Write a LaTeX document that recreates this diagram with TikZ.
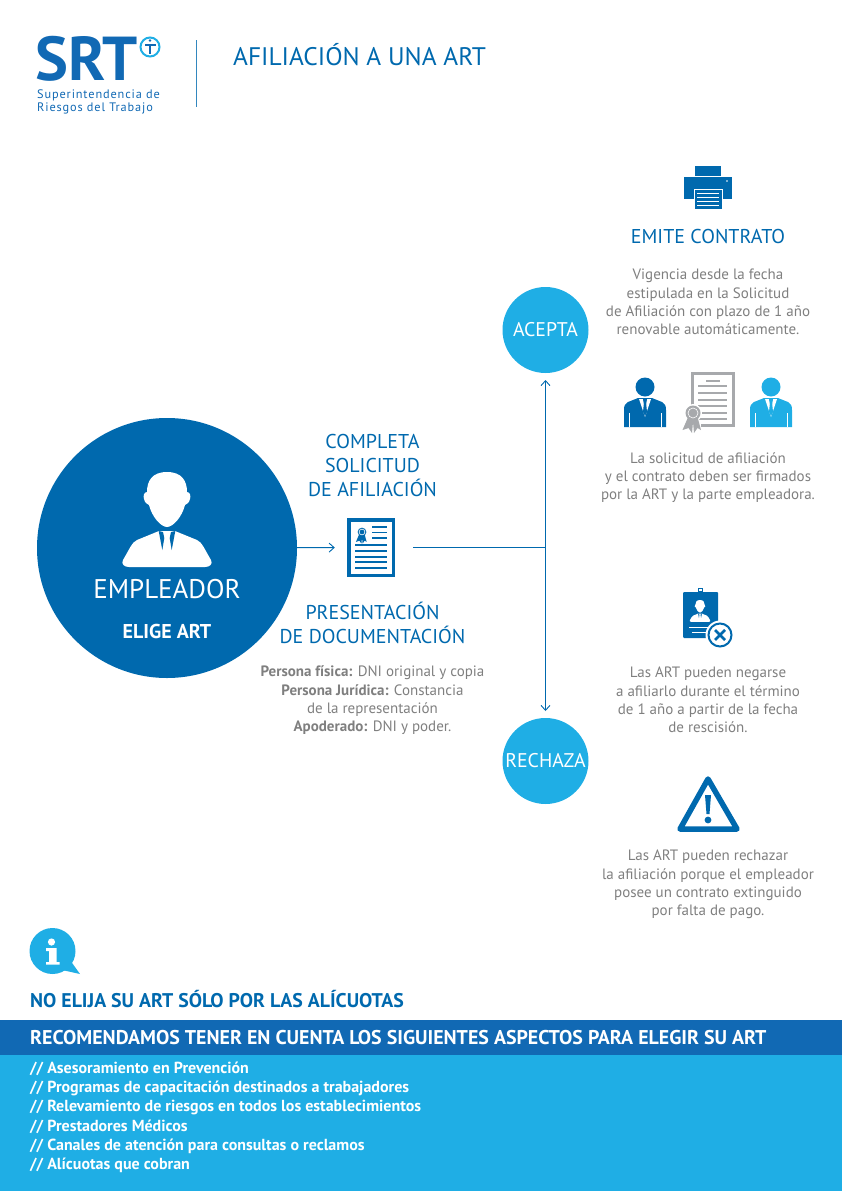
\documentclass[tikz,border=0pt]{standalone}
\usepackage{fontspec}
\setmainfont{PT Sans}
\newfontfamily\spacedfont[LetterSpace=7]{PT Sans}
\usetikzlibrary{arrows.meta}
\tikzset{>={Straight Barb[length=5pt,width=9pt]}}
\definecolor{srtblue}{HTML}{0069AE}
\definecolor{srtband}{HTML}{1169B4}
\definecolor{srtsky}{HTML}{1FAEE5}
\definecolor{srtgrey}{HTML}{7F7F7F}
\definecolor{srtsilver}{HTML}{A7A9AC}
\tikzset{
  heading/.style={text=srtblue,align=center,font=\fontsize{20}{24}\selectfont,inner sep=0pt},
  bodytext/.style={text=srtgrey,align=center,font=\fontsize{15}{18.3}\selectfont,inner sep=0pt},
  listtext/.style={text=white,anchor=west,inner sep=0pt,font=\fontsize{16}{19}\selectfont\bfseries},
  branch/.style={circle,fill=srtsky,text=white,minimum size=86pt,inner sep=0pt,outer sep=0pt,font=\fontsize{19.8}{22}\selectfont},
  link/.style={srtblue,line width=0.9pt},
}
% bust: x, top y, scale, colour of the figure, colour of the collar
\newcommand{\bust}[5]{
  \begin{scope}[shift={(#1,#2)},scale=#3]
    \fill[#4] (0,0) .. controls (-15,0) and (-20,9) .. (-20,20) .. controls (-23,20) and (-24,24) .. (-23,27)
      .. controls (-22,31) and (-20,32) .. (-18,33) .. controls (-15,45) and (-6,55) .. (0,55)
      .. controls (6,55) and (15,45) .. (18,33) .. controls (20,32) and (22,31) .. (23,27)
      .. controls (24,24) and (23,20) .. (20,20) .. controls (20,9) and (15,0) .. (0,0) -- cycle;
    \fill[#4] (-8,59) -- (-30,68) .. controls (-35,70) and (-38,78) .. (-44,88) .. controls (-46,92) and (-43,95) .. (-38,95)
      -- (38,95) .. controls (43,95) and (46,92) .. (44,88) .. controls (38,78) and (35,70) .. (30,68) -- (8,59) -- cycle;
    \fill[#5] (-8.3,59) -- (-4,60) -- (-2.7,66) -- (-4.7,78) -- cycle;
    \fill[#5] (8.3,59) -- (4,60) -- (2.7,66) -- (4.7,78) -- cycle;
  \end{scope}
}
% suit: x, top y, colour
\newcommand{\suit}[3]{
  \begin{scope}[shift={(#1,#2)}]
    \fill[#3] (0,0) circle (9.5);
    \fill[#3] (-7,11) -- (-17,15) .. controls (-20,16) and (-21,19) .. (-21,23) -- (-21,40) -- (21,40) -- (21,23)
      .. controls (21,19) and (20,16) .. (17,15) -- (7,11) -- cycle;
    \fill[white] (-6,12) -- (0,30) -- (6,12) -- cycle;
    \fill[#3] (-2,12) -- (2,12) -- (1.2,17) -- (2,25) -- (0,29) -- (-2,25) -- (-1.2,17) -- cycle;
    \draw[white,line width=0.4pt] (-16,26) -- (-16,40) (16,26) -- (16,40);
  \end{scope}
}
% rosette: x, y, scale, colour
\newcommand{\rosette}[4]{
  \begin{scope}[shift={(#1,#2)},scale=#3]
    \fill[#4] (-4,2) -- (-10.5,17) -- (-4.5,15) -- (-1,20) -- (0,9) -- (1,20) -- (4.5,15) -- (8,17) -- (4,2) -- cycle;
    \fill[#4] (0,0) circle (7.5);
    \draw[white,line width=0.6pt] (0,0) circle (5);
  \end{scope}
}
\begin{document}
\begin{tikzpicture}[x=1pt,y=-1pt]
  \useasboundingbox (0,0) rectangle (842,1191);
  % bands
  \fill[srtband] (0,1020) rectangle (842,1055);
  \fill[srtsky] (0,1055) rectangle (842,1191);
  % logo
  \node[text=srtband,anchor=base west,inner sep=0pt,font=\fontsize{62}{62}\selectfont\bfseries] (logotext) at (35,80) {SRT};
  \draw[srtsky,line width=2pt] (150,47) circle (9.5);
  \fill[srtband] (144.5,43.5) rectangle (155.5,45.5);
  \fill[srtband] (149,45) rectangle (151,54);
  \fill[srtband] (150,40.5) circle (1.4);
  \node[text=srtband,anchor=north west,align=left,inner sep=0pt,font=\fontsize{12.3}{12.5}\spacedfont] (logoname) at (37,90) {Superintendencia de\\Riesgos del Trabajo};
  \draw[srtblue!80!white,line width=0.8pt] (196,40) -- (196,107);
  \node[text=srtblue,anchor=base west,inner sep=0pt,font=\fontsize{25.4}{30}\selectfont] (title) at (233,65.5) {AFILIACIÓN A UNA ART};
  % main nodes
  \node[circle,fill=srtblue,minimum size=260pt,inner sep=0pt,outer sep=0pt] (empleador) at (167,548) {};
  \bust{167}{472}{1}{white}{srtblue}
  \node[text=white,inner sep=0pt,font=\fontsize{27}{30}\selectfont] (empleadorlabel) at (167,589) {EMPLEADOR};
  \node[text=white,inner sep=0pt,font=\fontsize{20}{22}\selectfont\bfseries] (eligeart) at (167,631) {ELIGE ART};
  \node[draw=srtblue,line width=3.5pt,minimum width=44.5pt,minimum height=55.5pt,inner sep=0pt,outer sep=0pt] (formdoc) at (371,547.5) {};
  \rosette{362}{532}{0.58}{srtblue}
  \foreach \y in {527,532.5,538} \draw[srtblue,line width=1.8pt] (372,\y) -- (387,\y);
  \foreach \y in {545,551,557,562,568} \draw[srtblue,line width=1.8pt] (355,\y) -- (387,\y);
  \node[branch] (acepta) at (545.5,330) {ACEPTA};
  \node[branch] (rechaza) at (545.5,761) {RECHAZA};
  \coordinate (junction) at (545.5,547.5);
  \draw[link,->,shorten >=14pt] (empleador) -- (formdoc);
  \draw[link,shorten <=20pt] (formdoc) -- (junction);
  \draw[link,->,shorten >=7pt] (junction) -- (acepta);
  \draw[link,->,shorten >=7pt] (junction) -- (rechaza);
  % middle texts
  \node[heading] (completa) at (372.5,465) {COMPLETA\\SOLICITUD\\DE AFILIACIÓN};
  \node[heading] (presentacion) at (372.5,622.5) {PRESENTACIÓN\\DE DOCUMENTACIÓN};
  \node[bodytext] (requisitos) at (372.5,700.5) {\textbf{Persona física:} DNI original y copia\\\textbf{Persona Jurídica:} Constancia\\de la representación\\\textbf{Apoderado:} DNI y poder.};
  % printer
  \fill[srtblue] (695,166) rectangle (721,176);
  \fill[srtblue] (684,177) rectangle (732,199);
  \fill[white] (727,181) circle (0.9);
  \draw[white,fill=srtblue,line width=0.8pt] (694,189) rectangle (722,209.5);
  \foreach \y in {193,197,201,205} \draw[white,line width=0.7pt] (697,\y) -- (719,\y);
  \node[heading] (emite) at (708,236.5) {EMITE CONTRATO};
  \node[bodytext] (vigencia) at (708,302) {Vigencia desde la fecha\\estipulada en la Solicitud\\de Afiliación con plazo de 1 año\\renovable automáticamente.};
  % signers and contract
  \suit{645}{387}{srtblue}
  \suit{771}{387}{srtsky}
  \draw[srtsilver,line width=3pt] (692.5,373.5) rectangle (733.5,425.5);
  \fill[white] (680,405) rectangle (701,434);
  \draw[srtsilver,line width=3pt] (692.5,407) -- (692.5,373.5) -- (733.5,373.5) -- (733.5,425.5) -- (701,425.5);
  \draw[srtsilver,line width=2pt] (706,381) -- (720,381);
  \foreach \y in {386,393,399.5,406,412.5,419} \draw[srtsilver,line width=2pt] (698,\y) -- (727,\y);
  \fill[white] (693,413) circle (9);
  \rosette{693}{413}{1}{srtsilver}
  \node[bodytext] (firmas) at (708,477.5) {La solicitud de afiliación\\y el contrato deben ser firmados\\por la ART y la parte empleadora.};
  % badge
  \fill[srtblue,rounded corners=1pt] (683,592) rectangle (718,638);
  \fill[srtblue] (698,588) rectangle (703,593);
  \fill[white] (699,589) rectangle (702,591);
  \bust{700}{600}{0.23}{white}{srtblue}
  \draw[white,line width=0.9pt] (689,627) -- (712,627);
  \draw[white,line width=0.9pt] (692,632) -- (709,632);
  \fill[white] (720,635) circle (14.5);
  \draw[srtblue,line width=2pt] (720,635) circle (11.5);
  \draw[srtblue,line width=2.8pt] (715,630) -- (725,640) (725,630) -- (715,640);
  \node[bodytext] (negarse) at (708,700) {Las ART pueden negarse\\a afiliarlo durante el término\\de 1 año a partir de la fecha\\de rescisión.};
  % warning
  \draw[srtblue,line width=5.5pt,line join=round] (708,779) -- (680,829) -- (737,829) -- cycle;
  \fill[srtblue] (705,795) -- (711,795) -- (709.5,814) -- (706.5,814) -- cycle;
  \fill[srtblue] (708,820) circle (3.4);
  \node[bodytext] (rechazar) at (708,884.5) {Las ART pueden rechazar\\la afiliación porque el empleador\\posee un contrato extinguido\\por falta de pago.};
  % info bubble
  \fill[srtsky] (52.5,951) circle (23);
  \fill[srtsky] (70,960) -- (80,974) -- (62,970) -- cycle;
  \fill[white] (51.5,942) circle (3.6);
  \fill[white] (46,948) -- (56.7,948) -- (56.7,962) -- (59.5,962) -- (59.5,964.5) -- (46,964.5) -- (46,962) -- (49,962) -- (49,951) -- (46,951) -- cycle;
  % bottom texts
  \node[text=srtblue,anchor=base west,inner sep=0pt,font=\fontsize{19.8}{22}\selectfont\bfseries] (aviso) at (30,1007) {NO ELIJA SU ART SÓLO POR LAS ALÍCUOTAS};
  \node[text=white,anchor=base west,inner sep=0pt,font=\fontsize{19.9}{22}\selectfont\bfseries] (recomendamos) at (30,1044) {RECOMENDAMOS TENER EN CUENTA LOS SIGUIENTES ASPECTOS PARA ELEGIR SU ART};
  \node[listtext] (asesoramiento) at (30,1069) {// Asesoramiento en Prevención};
  \node[listtext] (programas) at (30,1088.5) {// Programas de capacitación destinados a trabajadores};
  \node[listtext] (relevamiento) at (30,1107.5) {// Relevamiento de riesgos en todos los establecimientos};
  \node[listtext] (prestadores) at (30,1126.5) {// Prestadores Médicos};
  \node[listtext] (canales) at (30,1146) {// Canales de atención para consultas o reclamos};
  \node[listtext] (alicuotas) at (30,1165) {// Alícuotas que cobran};
\end{tikzpicture}
\end{document}
